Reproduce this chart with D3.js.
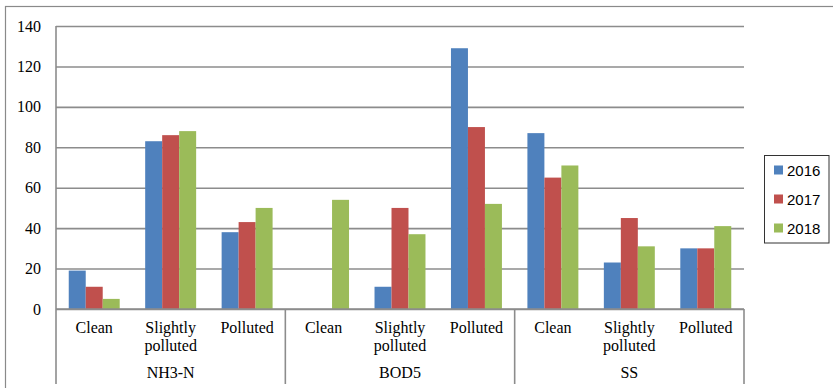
<!DOCTYPE html>
<html>
<head>
<meta charset="utf-8">
<script src="https://cdn.jsdelivr.net/npm/d3@7"></script>
<style>
  html, body { margin: 0; padding: 0; background: #fff; }
  svg { display: block; }
</style>
</head>
<body>
<svg id="chart" width="833" height="388"></svg>
<script>
const groups = ["NH3-N", "BOD5", "SS"];
const categories = ["Clean", "Slightly polluted", "Polluted"];
const series = ["2016", "2017", "2018"];
const colors = ["#4F81BD", "#C0504D", "#9BBB59"];
// values per series, ordered group by group, category by category
const values2016 = [19, 83, 38, 0, 11, 129, 87, 23, 30];
const values2017 = [11, 86, 43, 0, 50, 90, 65, 45, 30];
const values2018 = [5, 88, 50, 54, 37, 52, 71, 31, 41];
const yTicks = [0, 20, 40, 60, 80, 100, 120, 140];

(function () {
const allValues = [values2016, values2017, values2018];
const keys = [];
groups.forEach(g => categories.forEach(c => keys.push(g + "|" + c)));

const svg = d3.select("#chart");
const pLeft = 56, pRight = 744, pTop = 26, pBottom = 309;
const serif = "'Liberation Serif'";
const sans = "'Liberation Sans'";

// outer frame
svg.append("rect").attr("x", 5.5).attr("y", 6.5).attr("width", 860).attr("height", 420)
  .attr("fill", "none").attr("stroke", "#8a8a8a").attr("stroke-width", 1.2);

const x0 = d3.scaleBand().domain(keys).range([pLeft, pRight]).padding(0);
const x1 = d3.scaleBand().domain(series).range([0, x0.bandwidth()]).paddingInner(0).paddingOuter(0.75);
const y = d3.scaleLinear().domain([0, 140]).range([pBottom, pTop]);

// gridlines
const grid = svg.append("g").attr("transform", `translate(${pLeft},0)`)
  .call(d3.axisLeft(y).tickValues(yTicks).tickSize(-(pRight - pLeft)).tickFormat(""));
grid.select(".domain").remove();
grid.selectAll("line").attr("stroke", "#8c8c8c").attr("stroke-width", 1.6);

// bars
const data = [];
keys.forEach((k, i) => series.forEach((s, j) => data.push({ key: k, s, j, v: allValues[j][i] })));
svg.append("g").selectAll("rect").data(data.filter(d => d.v > 0)).join("rect")
  .attr("x", d => x0(d.key) + x1(d.s))
  .attr("y", d => y(d.v))
  .attr("width", x1.bandwidth())
  .attr("height", d => y(0) - y(d.v))
  .attr("fill", d => colors[d.j]);

// y axis labels
const yAxis = svg.append("g").attr("transform", `translate(${pLeft - 15},0)`)
  .call(d3.axisLeft(y).tickValues(yTicks).tickSize(0).tickPadding(0));
yAxis.attr("font-family", null).attr("font-size", null);
yAxis.select(".domain").remove();
yAxis.selectAll("text").style("font-family", serif).style("font-size", "16px").attr("fill", "#000");

// axis lines
const lineColor = "#8c8c8c";
svg.append("line").attr("x1", pLeft).attr("x2", pLeft).attr("y1", pTop).attr("y2", 384)
  .attr("stroke", lineColor).attr("stroke-width", 1.6);
svg.append("line").attr("x1", pLeft).attr("x2", pRight).attr("y1", y(0)).attr("y2", y(0))
  .attr("stroke", lineColor).attr("stroke-width", 1.6);
groups.forEach(g => {
  const xEnd = x0(g + "|" + categories[2]) + x0.bandwidth();
  svg.append("line").attr("x1", xEnd).attr("x2", xEnd).attr("y1", y(0)).attr("y2", 384)
    .attr("stroke", lineColor).attr("stroke-width", 1.6);
});

// category labels
keys.forEach(k => {
  const c = k.split("|")[1];
  const cx = x0(k) + x0.bandwidth() / 2;
  const t = svg.append("text").attr("x", cx).attr("text-anchor", "middle")
    .style("font-family", serif).style("font-size", "16px").attr("fill", "#000");
  if (c === "Slightly polluted") {
    t.append("tspan").attr("x", cx).attr("y", 333).text("Slightly");
    t.append("tspan").attr("x", cx).attr("y", 351).text("polluted");
  } else {
    t.attr("y", 333).text(c);
  }
});
// group labels
groups.forEach(g => {
  const xs = x0(g + "|" + categories[0]);
  const xe = x0(g + "|" + categories[2]) + x0.bandwidth();
  svg.append("text").attr("x", (xs + xe) / 2).attr("y", 378).attr("text-anchor", "middle")
    .style("font-family", serif).style("font-size", "16px").attr("fill", "#000").text(g);
});

// legend
const lg = svg.append("g");
lg.append("rect").attr("x", 764.5).attr("y", 155.5).attr("width", 64.5).attr("height", 87.5)
  .attr("fill", "#fff").attr("stroke", "#333").attr("stroke-width", 1);
series.forEach((s, i) => {
  const cy = 170 + i * 29;
  lg.append("rect").attr("x", 774).attr("y", cy - 4.5).attr("width", 9).attr("height", 9).attr("fill", colors[i]);
  lg.append("text").attr("x", 787).attr("y", cy + 5.5)
    .style("font-family", sans).style("font-size", "15px").attr("fill", "#000").text(s);
});
})();
</script>
</body>
</html>
